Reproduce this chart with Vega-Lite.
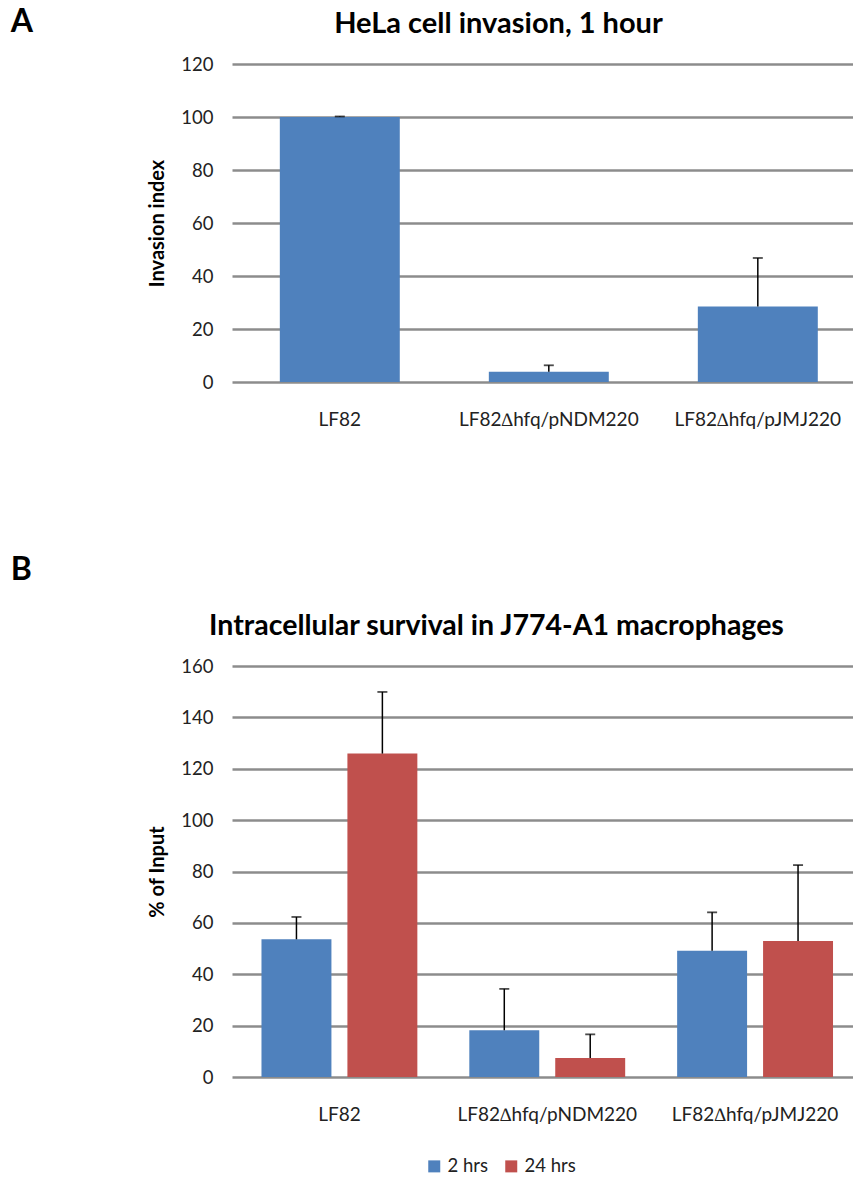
{
  "$schema": "https://vega.github.io/schema/vega-lite/v6.json",
  "padding": {"left": 10, "top": 6, "right": 0, "bottom": 0},
  "background": "white",
  "config": {
    "font": "Lato",
    "view": {"stroke": null},
    "axis": {"labelFont": "Lato", "labelFontSize": 18.5, "labelColor": "#222222", "titleFont": "Lato", "titleFontSize": 20, "titleFontWeight": "bold", "titleColor": "#000000"},
    "axisX": {"labelFontSize": 19},
    "title": {"font": "Lato", "color": "#000000"}
  },
  "spacing": 124,
  "vconcat": [
    {
      "title": {"text": "A", "anchor": "start", "frame": "bounds", "fontSize": 32, "fontWeight": "bold", "dx": -137, "dy": 33},
      "vconcat": [
        {
          "title": {"text": "HeLa cell invasion, 1 hour", "fontSize": 29, "fontWeight": "bold", "anchor": "middle", "dx": -44, "offset": 16},
          "width": 621,
          "height": 318,
          "data": {"values": [
            {"strain": "LF82", "value": 100, "upper": 100.2},
            {"strain": "LF82∆hfq/pNDM220", "value": 3.9, "upper": 6.3},
            {"strain": "LF82∆hfq/pJMJ220", "value": 28.5, "upper": 46.8}
          ]},
          "encoding": {
            "x": {"field": "strain", "type": "nominal", "sort": null,
              "scale": {"paddingInner": 0.426, "paddingOuter": 0.1986, "align": 0.576},
              "axis": {"title": null, "labelAngle": 0, "domain": false, "ticks": false, "labelPadding": 28, "grid": false}}
          },
          "layer": [
            {
              "mark": {"type": "bar", "color": "#4F81BD"},
              "encoding": {
                "y": {"field": "value", "type": "quantitative", "scale": {"domain": [0, 120]},
                  "axis": {"title": "Invasion index", "values": [0, 20, 40, 60, 80, 100, 120], "grid": true, "gridColor": "#8c8c8c", "gridWidth": 2.5, "domain": false, "ticks": false, "labelPadding": 19, "titlePadding": 13}}
              }
            },
            {
              "mark": {"type": "rule", "color": "#000000", "strokeWidth": 1.5},
              "encoding": {"y": {"field": "value", "type": "quantitative"}, "y2": {"field": "upper"}}
            },
            {
              "mark": {"type": "tick", "color": "#000000", "thickness": 1.8, "size": 10},
              "encoding": {"y": {"field": "upper", "type": "quantitative"}}
            }
          ]
        }
      ]
    },
    {
      "title": {"text": "B", "anchor": "start", "frame": "bounds", "fontSize": 32, "fontWeight": "bold", "dx": -137, "offset": 25},
      "vconcat": [
        {
          "title": {"text": "Intracellular survival in J774-A1 macrophages", "fontSize": 28.5, "fontWeight": "bold", "anchor": "middle", "dx": -46, "offset": 17},
          "width": 621,
          "height": 411,
          "data": {"values": [
            {"strain": "LF82", "time": "2 hrs", "value": 53.6, "upper": 62.3},
            {"strain": "LF82", "time": "24 hrs", "value": 125.9, "upper": 149.9},
            {"strain": "LF82∆hfq/pNDM220", "time": "2 hrs", "value": 18.2, "upper": 34.3},
            {"strain": "LF82∆hfq/pNDM220", "time": "24 hrs", "value": 7.4, "upper": 16.6},
            {"strain": "LF82∆hfq/pJMJ220", "time": "2 hrs", "value": 49.1, "upper": 64.1},
            {"strain": "LF82∆hfq/pJMJ220", "time": "24 hrs", "value": 52.9, "upper": 82.5}
          ]},
          "encoding": {
            "x": {"field": "strain", "type": "nominal", "sort": null,
              "scale": {"paddingInner": 0.25, "paddingOuter": 0.119, "align": 0.596},
              "axis": {"title": null, "labelAngle": 0, "domain": false, "ticks": false, "labelPadding": 28, "grid": false}},
            "xOffset": {"field": "time", "type": "nominal", "sort": ["2 hrs", "24 hrs"], "scale": {"paddingInner": 0.186, "paddingOuter": 0}}
          },
          "layer": [
            {
              "mark": {"type": "bar"},
              "encoding": {
                "y": {"field": "value", "type": "quantitative", "scale": {"domain": [0, 160]},
                  "axis": {"title": "% of Input", "values": [0, 20, 40, 60, 80, 100, 120, 140, 160], "grid": true, "gridColor": "#8c8c8c", "gridWidth": 2.5, "domain": false, "ticks": false, "labelPadding": 19, "titlePadding": 13}},
                "color": {"field": "time", "type": "nominal", "sort": ["2 hrs", "24 hrs"],
                  "scale": {"domain": ["2 hrs", "24 hrs"], "range": ["#4F81BD", "#C0504D"]},
                  "legend": {"orient": "none", "legendX": 193, "legendY": 1093, "direction": "horizontal", "title": null, "symbolType": "square", "symbolSize": 144, "symbolStrokeWidth": 0, "symbolOpacity": 1, "labelFont": "Lato", "labelFontSize": 18.5, "labelColor": "#222222", "columnPadding": 14, "labelOffset": 4}}
              }
            },
            {
              "mark": {"type": "rule", "color": "#000000", "strokeWidth": 1.5},
              "encoding": {"y": {"field": "value", "type": "quantitative"}, "y2": {"field": "upper"}}
            },
            {
              "mark": {"type": "tick", "color": "#000000", "thickness": 1.8, "size": 10},
              "encoding": {"y": {"field": "upper", "type": "quantitative"}}
            }
          ]
        }
      ]
    }
  ]
}
